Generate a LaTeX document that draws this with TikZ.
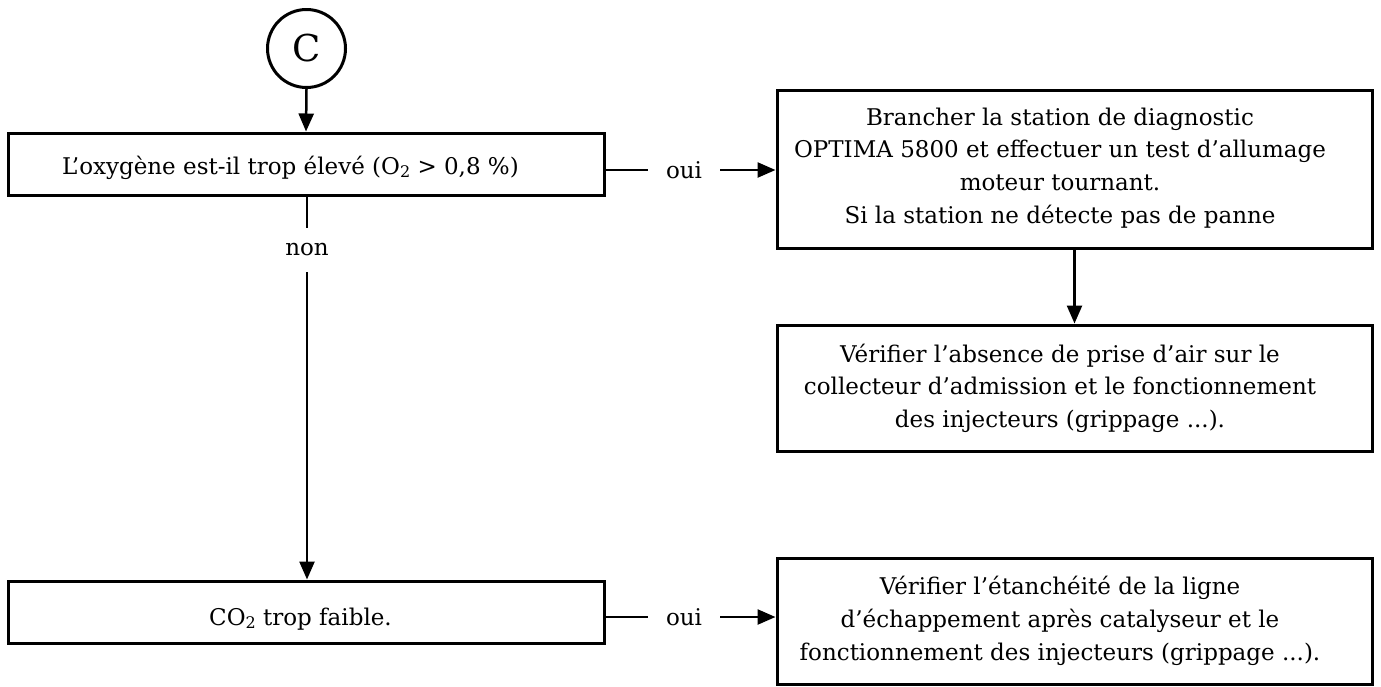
\documentclass[tikz,border=0pt]{standalone}
\usepackage{fontspec}
\setmainfont{DejaVu Serif}
\usetikzlibrary{arrows.meta}
\newcommand\subtwo{\raisebox{-0.3ex}{\fontsize{16pt}{16pt}\selectfont 2}}
\newcommand\firststrut{\rule{0pt}{20pt}}
\begin{document}
\begin{tikzpicture}[x=1pt,y=-1pt,
  box/.style={draw, line width=3pt, inner sep=0pt},
  txt/.style={inner sep=0pt, align=center, font={\fontsize{23pt}{32.7pt}\selectfont}},
  conn/.style={line width=2.5pt},
  arr/.style={conn, -{Triangle[length=18pt,width=15pt]}},
  lbl/.style={inner sep=0pt, font={\fontsize{23pt}{27pt}\selectfont}}]
\useasboundingbox (0,0) rectangle (1381,686);

% start circle
\node[draw, circle, line width=3pt, minimum size=78pt, inner sep=0pt,
      font={\fontsize{37pt}{40pt}\selectfont}] (c) at (306.5,48.5) {C};

% boxes
\node[box, minimum width=596pt, minimum height=62pt] (b1) at (306,164) {};
\node[box, minimum width=595pt, minimum height=158pt] (b2) at (1074.5,169) {};
\node[box, minimum width=595pt, minimum height=126pt] (b3) at (1074.5,388) {};
\node[box, minimum width=596pt, minimum height=62pt] (b4) at (306,612) {};
\node[box, minimum width=595pt, minimum height=126pt] (b5) at (1074.5,621) {};

% texts
\node[txt, anchor=base] (t1) at (290.5,174) {L’oxygène est-il trop élevé (O\subtwo{} > 0,8 \%)};
\node[txt, anchor=north] (t2) at (1060,105) {\firststrut Brancher la station de diagnostic\\
OPTIMA 5800 et effectuer un test d’allumage\\moteur tournant.\\Si la station ne détecte pas de panne};
\node[txt, anchor=north] (t3) at (1060,342) {\firststrut Vérifier l’absence de prise d’air sur le\\
collecteur d’admission et le fonctionnement\\des injecteurs (grippage ...).};
\node[txt, anchor=base] (t4) at (300.5,625) {CO\subtwo{} trop faible.};
\node[txt, anchor=north] (t5) at (1060,574.5) {\firststrut Vérifier l’étanchéité de la ligne\\
d’échappement après catalyseur et le\\fonctionnement des injecteurs (grippage ...).};

% labels
\node[lbl, minimum width=72pt, minimum height=20pt] (oui1) at (684,170) {oui};
\node[lbl, minimum width=72pt, minimum height=20pt] (oui2) at (684,617) {oui};
\node[lbl, minimum height=44pt] (non) at (307,250) {non};

% connectors
\draw[arr] (c.south) -- (b1.north);
\draw[conn] (b1.east |- oui1.west) -- (oui1.west);
\draw[arr] (oui1.east) -- (b2.west |- oui1.east);
\draw[arr] (b2.south) -- (b3.north);
\draw[conn] (b1.south -| non.north) -- (non.north);
\draw[arr] (non.south) -- (b4.north -| non.south);
\draw[conn] (b4.east |- oui2.west) -- (oui2.west);
\draw[arr] (oui2.east) -- (b5.west |- oui2.east);
\end{tikzpicture}
\end{document}
